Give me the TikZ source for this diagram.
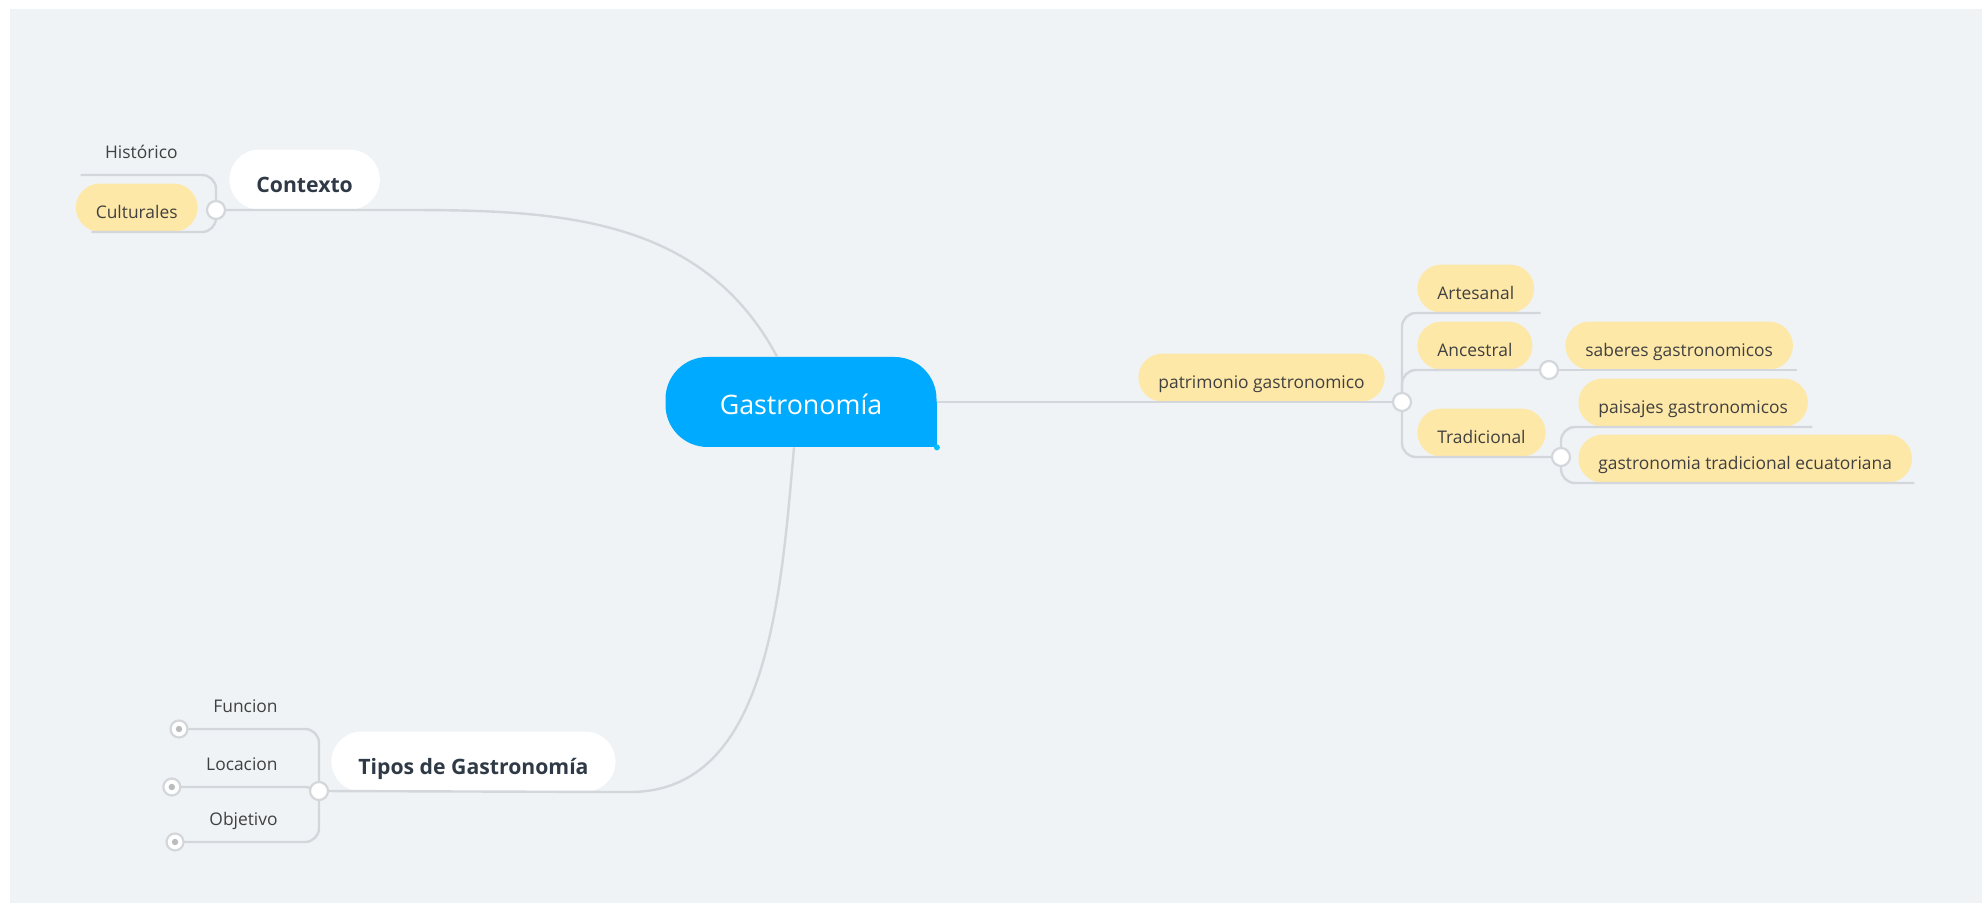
\documentclass[tikz,border=0pt]{standalone}
\usepackage{fontspec}
\setmainfont{Open Sans}
\usetikzlibrary{backgrounds}
\definecolor{panel}{HTML}{EFF3F6}
\definecolor{rootblue}{HTML}{00AAFF}
\definecolor{pill}{HTML}{FEE8A7}
\definecolor{twig}{HTML}{D3D7DB}
\definecolor{ink}{HTML}{404040}
\definecolor{inkdark}{HTML}{2F3A46}

\begin{document}
\begin{tikzpicture}[x=0.5pt, y=-0.5pt,
    root/.style={fill=rootblue, text=white, rounded corners=21pt, minimum width=135.5pt, minimum height=45pt,
      text height=12.2pt, text depth=0pt, font=\fontsize{13.4}{16}\selectfont},
    topic/.style={fill=white, text=inkdark, rounded corners=15pt, minimum height=30pt, inner xsep=13.5pt,
      text height=12.7pt, text depth=0pt, font=\fontsize{10.6}{13}\selectfont\bfseries},
    sub/.style={fill=pill, text=ink, rounded corners=12pt, minimum height=24pt, inner xsep=10pt,
      text height=11.1pt, text depth=0pt, font=\fontsize{8.7}{11}\selectfont},
    leaf/.style={sub, fill=none, text height=8.3pt},
    branch/.style={draw=twig, line width=1.2pt, rounded corners=7pt},
    knot/.style={circle, draw=twig, line width=1.1pt, fill=white, minimum size=9pt, inner sep=0pt},
    fold/.style={circle, draw=twig, line width=1.1pt, fill=white, minimum size=8.5pt, inner sep=0pt,
      path picture={\fill[twig!70!gray] (path picture bounding box.center) circle (1.6pt);}},
    handle/.style={circle, fill=rootblue!75!cyan, minimum size=3pt, inner sep=0pt},
  ]
  \useasboundingbox (0,0) rectangle (1982,903);

  % central topic
  \node[root] (root) at (801,402) {Gastronomía};

  % main topics
  \node[topic, anchor=south west] (ctx) at (229,210) {Contexto};
  \node[topic, anchor=south west] (tip) at (331,792) {Tipos de Gastronomía};
  \node[sub, anchor=south west] (pat) at (1138,402) {patrimonio gastronomico};

  % Contexto
  \node[leaf, anchor=south east] (hist) at (198,175) {Histórico};
  \node[sub, anchor=south east] (cul) at (198,232) {Culturales};

  % Tipos de Gastronomia
  \node[leaf, inner xsep=17pt, anchor=south east] (fun) at (312,729) {Funcion};
  \node[leaf, inner xsep=17pt, anchor=south east] (loc) at (312,787) {Locacion};
  \node[leaf, inner xsep=17pt, anchor=south east] (obj) at (312,842) {Objetivo};

  % patrimonio gastronomico
  \node[sub, anchor=south west] (art) at (1417,313) {Artesanal};
  \node[sub, anchor=south west] (anc) at (1417,370) {Ancestral};
  \node[sub, anchor=south west] (tra) at (1417,457) {Tradicional};
  \node[sub, anchor=south west] (sab) at (1565,370) {saberes gastronomicos};
  \node[sub, anchor=south west] (pai) at (1578,427) {paisajes gastronomicos};
  \node[sub, anchor=south west] (ecu) at (1578,483) {gastronomia tradicional ecuatoriana};

  \coordinate (j-ctx) at (216,210);
  \coordinate (j-tip) at (319,791);
  \coordinate (j-pat) at (1402,402);
  \coordinate (j-anc) at (1549,370);
  \coordinate (j-tra) at (1561,457);

  % branches
  \draw[branch] (j-ctx) -- (ctx.south east) to[out=0, in=118] ([xshift=-12pt]root.north);
  \draw[branch] (j-ctx) |- ([xshift=-2pt]hist.south west);
  \draw[branch] (j-ctx) |- ([xshift=8pt]cul.south west);

  \draw[branch] (j-tip) -- (tip.south east) to[out=0, in=-95] ([xshift=-3.5pt]root.south);
  \draw[branch] (j-tip) |- (fun.south west);
  \draw[branch] (j-tip) |- (loc.south west);
  \draw[branch] (j-tip) |- (obj.south west);

  \draw[branch] (root.east) -- (j-pat);
  \draw[branch] (j-pat) |- ([xshift=3pt]art.south east);
  \draw[branch] (j-pat) |- (j-anc);
  \draw[branch] (j-pat) |- (j-tra);
  \draw[branch] (j-anc) -- ([xshift=2pt]sab.south east);
  \draw[branch] (j-tra) |- ([xshift=2pt]pai.south east);
  \draw[branch] (j-tra) |- ([xshift=1pt]ecu.south east);

  % junction knots and folded markers
  \node[knot] (k-ctx) at (j-ctx) {};
  \node[knot] (k-tip) at (j-tip) {};
  \node[knot] (k-pat) at (j-pat) {};
  \node[knot] (k-anc) at (j-anc) {};
  \node[knot] (k-tra) at (j-tra) {};
  \node[fold] (f-fun) at (fun.south west) {};
  \node[fold] (f-loc) at (loc.south west) {};
  \node[fold] (f-obj) at (obj.south west) {};
  \node[handle] (root-dot) at (root.south east) {};

  \begin{scope}[on background layer]
    \fill[white] (0,0) rectangle (1982,903);
    \fill[panel] (10,9) rectangle (1982,903);
    \fill[rootblue] (root.center) rectangle (root.south east);
  \end{scope}
\end{tikzpicture}
\end{document}
